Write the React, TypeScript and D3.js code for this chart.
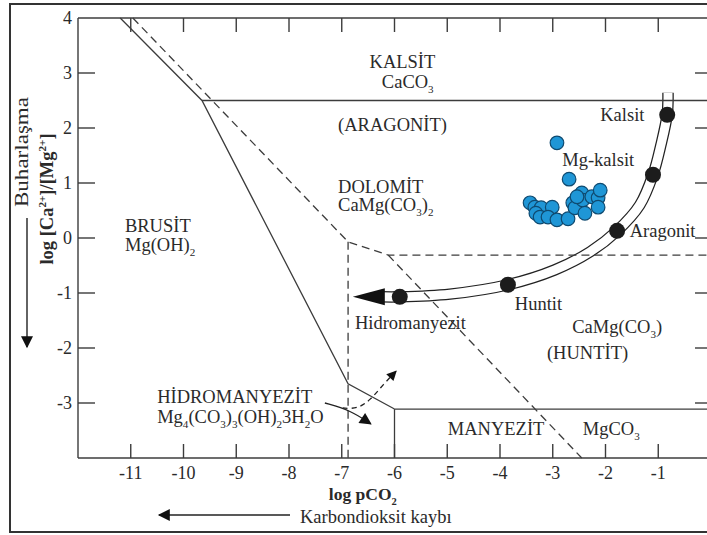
import React from 'react';
import * as d3 from 'd3';

const W = 707;
const H = 535;

// axes
const X_DOMAIN: [number, number] = [-12, 0];
const Y_DOMAIN: [number, number] = [-4, 4];
const X_TICKS = [-11, -10, -9, -8, -7, -6, -5, -4, -3, -2, -1];
const Y_TICK_MARKS = [3, 2, 1, 0, -1, -2, -3];
const Y_TICK_LABELS = [4, 3, 2, 1, 0, -1, -2, -3];

// phase boundaries (log pCO2, log Ca/Mg)
const SOLID_BOUNDARY: [number, number][] = [[-11.2, 4], [-9.65, 2.5], [-6.88, -2.65], [-6.0, -3.11]];
const CALCITE_BOUNDARY: [number, number][] = [[-9.65, 2.5], [0.2, 2.5]];
const MAGNESITE_TOP: [number, number][] = [[-6.0, -3.11], [0.2, -3.11]];
const MAGNESITE_LEFT: [number, number][] = [[-6.0, -3.11], [-6.0, -4]];
const DASHED_BOUNDARY: [number, number][] = [[-10.96, 4], [-6.88, -0.07], [-6.12, -0.31], [0.2, -0.31]];
const DASHED_DIAGONAL: [number, number][] = [[-6.12, -0.31], [-2.45, -4]];
const DASHED_VERTICAL: [number, number][] = [[-6.88, -0.07], [-6.88, -4]];

// evolution path
const PATH_X = [-0.815, -0.83, -0.95, -1.1, -1.35, -1.78, -2.29, -2.96, -3.85, -4.95, -5.9, -6.24];
const PATH_Y = [2.64, 2.25, 1.69, 1.15, 0.6, 0.13, -0.25, -0.58, -0.85, -1.02, -1.07, -1.07];
const ARROW_TIP: [number, number] = [-6.79, -1.07];
const STAGE_X = [-0.83, -1.1, -1.78, -3.85, -5.9];
const STAGE_Y = [2.24, 1.15, 0.13, -0.85, -1.07];

// Mg-calcite samples
const SAMPLE_X = [-2.92, -2.69, -3.43, -3.34, -3.22, -3.01, -3.32, -3.24, -3.09, -2.92, -2.71, -2.62, -2.58, -2.45, -2.43, -2.39, -2.26, -2.14, -2.10, -2.14, -2.54];
const SAMPLE_Y = [1.73, 1.07, 0.64, 0.56, 0.55, 0.56, 0.45, 0.38, 0.38, 0.33, 0.35, 0.64, 0.55, 0.82, 0.69, 0.45, 0.75, 0.73, 0.87, 0.56, 0.75];

// leader arrows
const LEADER_SOLID: [number, number][] = [[-7.32, -3.0], [-6.84, -3.13], [-6.45, -3.38]];
const LEADER_DASHED: [number, number][] = [[-6.98, -3.09], [-6.71, -3.11], [-6.46, -2.95], [-6.22, -2.67], [-5.97, -2.42]];

// labels: text, x, y, anchor
type Lbl = { t: string; x: number; y: number; a?: string };
const LABELS: Lbl[] = [
  { t: 'KALSİT', x: -5.85, y: 3.09, a: 'middle' },
  { t: 'CaCO_{3}', x: -6.24, y: 2.73 },
  { t: '(ARAGONİT)', x: -7.07, y: 1.95 },
  { t: 'DOLOMİT', x: -7.07, y: 0.82 },
  { t: 'CaMg(CO_{3})_{2}', x: -7.07, y: 0.49 },
  { t: 'BRUSİT', x: -11.11, y: 0.11 },
  { t: 'Mg(OH)_{2}', x: -11.11, y: -0.24 },
  { t: 'Kalsit', x: -2.1, y: 2.13 },
  { t: 'Mg-kalsit', x: -2.82, y: 1.31 },
  { t: 'Aragonit', x: -1.54, y: 0.02 },
  { t: 'Huntit', x: -3.72, y: -1.31 },
  { t: 'Hidromanyezit', x: -6.75, y: -1.65 },
  { t: 'CaMg(CO_{3})', x: -2.63, y: -1.73 },
  { t: '(HUNTİT)', x: -3.11, y: -2.2 },
  { t: 'MANYEZİT', x: -4.99, y: -3.58 },
  { t: 'MgCO_{3}', x: -2.43, y: -3.58 },
  { t: 'HİDROMANYEZİT', x: -10.5, y: -3.0 },
  { t: 'Mg_{4}(CO_{3})_{3}(OH)_{2}3H_{2}O', x: -10.5, y: -3.36 },
];

const FONT = '"Liberation Serif", "Times New Roman", serif';
const INK = '#2a2a2a';
const LINE = '#3c3c3c';

function rich(str: string, fs: number) {
  const parts: React.ReactNode[] = [];
  const re = /([_^])\{([^}]*)\}/g;
  let last = 0;
  let shift = 0;
  let m: RegExpExecArray | null;
  let k = 0;
  while ((m = re.exec(str))) {
    if (m.index > last) {
      parts.push(<tspan key={k++} dy={-shift}>{str.slice(last, m.index)}</tspan>);
      shift = 0;
    }
    const s = m[1] === '_' ? fs * 0.28 : -fs * 0.4;
    parts.push(<tspan key={k++} dy={s - shift} fontSize={fs * 0.6}>{m[2]}</tspan>);
    shift = s;
    last = re.lastIndex;
  }
  if (last < str.length) {
    parts.push(<tspan key={k++} dy={-shift}>{str.slice(last)}</tspan>);
  }
  return parts;
}

export default function App() {
  const x = d3.scaleLinear().domain(X_DOMAIN).range([78, 711]);
  const y = d3.scaleLinear().domain(Y_DOMAIN).range([458, 18]);
  const line = d3.line<[number, number]>().x(d => x(d[0])).y(d => y(d[1]));
  const pathPts: [number, number][] = PATH_X.map((v, i) => [v, PATH_Y[i]]);
  const curve = d3.line<[number, number]>().x(d => x(d[0])).y(d => y(d[1])).curve(d3.curveCatmullRom.alpha(0.5));
  const leaderCurve = d3.line<[number, number]>().x(d => x(d[0])).y(d => y(d[1])).curve(d3.curveBasis);

  const tipX = x(ARROW_TIP[0]);
  const tipY = y(ARROW_TIP[1]);
  const baseX = x(PATH_X[PATH_X.length - 1]);
  const head = `M${tipX},${tipY} L${baseX + 3},${tipY - 8.5} L${baseX + 3},${tipY + 8.5} Z`;

  const fs = 18.5;

  return (
    <svg width={W} height={H} style={{ position: 'absolute', left: 0, top: 0, background: '#fff' }} fontFamily={FONT}>
      <defs>
        <marker id="ah" viewBox="0 0 10 10" refX="9" refY="5" markerWidth="15" markerHeight="12" markerUnits="userSpaceOnUse" orient="auto">
          <path d="M0,0 L10,5 L0,10 Z" fill="#111" />
        </marker>
        <marker id="ah2" viewBox="0 0 10 10" refX="9" refY="5" markerWidth="13" markerHeight="10" markerUnits="userSpaceOnUse" orient="auto">
          <path d="M0,0 L10,5 L0,10 Z" fill="#111" />
        </marker>
      </defs>
      <rect x={0} y={0} width={W} height={H} fill="#fff" />
      {/* outer frame */}
      <rect x={10} y={4} width={710} height={528} fill="none" stroke="#333" strokeWidth={2} />

      {/* plot frame */}
      <line x1={x(-12)} x2={x(0)} y1={y(4)} y2={y(4)} stroke={LINE} strokeWidth={1.4} />
      <line x1={x(-12)} x2={x(0)} y1={y(-4)} y2={y(-4)} stroke={LINE} strokeWidth={1.4} />
      <line x1={x(-12)} x2={x(-12)} y1={y(4)} y2={y(-4)} stroke={LINE} strokeWidth={1.4} />
      <line x1={x(0)} x2={x(0)} y1={y(4)} y2={y(-4)} stroke={LINE} strokeWidth={1.4} />

      {/* ticks */}
      {X_TICKS.map(t => (
        <g key={'xt' + t}>
          <line x1={x(t)} x2={x(t)} y1={y(4)} y2={y(4) + 14} stroke={LINE} strokeWidth={1.4} />
          <line x1={x(t)} x2={x(t)} y1={y(-4)} y2={y(-4) - 14} stroke={LINE} strokeWidth={1.4} />
          <text x={x(t)} y={y(-4) + 21} textAnchor="middle" fontSize={18} fill={INK}>{t}</text>
        </g>
      ))}
      {Y_TICK_MARKS.map(t => (
        <g key={'yt' + t}>
          <line x1={x(-12)} x2={x(-12) + 17} y1={y(t)} y2={y(t)} stroke={LINE} strokeWidth={1.4} />
          <line x1={x(0)} x2={x(0) - 16} y1={y(t)} y2={y(t)} stroke={LINE} strokeWidth={1.4} />
        </g>
      ))}
      {Y_TICK_LABELS.map(t => (
        <text key={'yl' + t} x={x(-12) - 6} y={y(t) + 6} textAnchor="end" fontSize={18} fill={INK}>{t}</text>
      ))}

      {/* evolution path (double line) */}
      <path d={curve(pathPts) || ''} fill="none" stroke="#222" strokeWidth={11.5} />
      <path d={curve(pathPts) || ''} fill="none" stroke="#fff" strokeWidth={9} />
      <path d={head} fill="#111" />

      {/* boundaries */}
      <path d={line(SOLID_BOUNDARY) || ''} fill="none" stroke={LINE} strokeWidth={1.3} />
      <path d={line(CALCITE_BOUNDARY) || ''} fill="none" stroke={LINE} strokeWidth={1.3} />
      <path d={line(MAGNESITE_TOP) || ''} fill="none" stroke={LINE} strokeWidth={1.3} />
      <path d={line(MAGNESITE_LEFT) || ''} fill="none" stroke={LINE} strokeWidth={1.3} />
      <path d={line(DASHED_BOUNDARY) || ''} fill="none" stroke={LINE} strokeWidth={1.3} strokeDasharray="8,5" />
      <path d={line(DASHED_DIAGONAL) || ''} fill="none" stroke={LINE} strokeWidth={1.3} strokeDasharray="8,5" />
      <path d={line(DASHED_VERTICAL) || ''} fill="none" stroke={LINE} strokeWidth={1.3} strokeDasharray="8,5" />

      {/* leader arrows */}
      <path d={leaderCurve(LEADER_SOLID) || ''} fill="none" stroke="#222" strokeWidth={1.3} markerEnd="url(#ah)" />
      <path d={leaderCurve(LEADER_DASHED) || ''} fill="none" stroke="#222" strokeWidth={1.3} strokeDasharray="5,4" markerEnd="url(#ah2)" />

      {/* stage dots */}
      {STAGE_X.map((v, i) => (
        <circle key={'s' + i} cx={x(v)} cy={y(STAGE_Y[i])} r={8} fill="#1c1c1c" />
      ))}

      {/* samples */}
      {SAMPLE_X.map((v, i) => (
        <circle key={'p' + i} cx={x(v)} cy={y(SAMPLE_Y[i])} r={6.8} fill="#1f96d6" stroke="#0f4a70" strokeWidth={1.2} />
      ))}

      {/* labels */}
      {LABELS.map((l, i) => (
        <text key={'l' + i} x={x(l.x)} y={y(l.y)} textAnchor={l.a || 'start'} fontSize={fs} fill={INK}>
          {rich(l.t, fs)}
        </text>
      ))}

      {/* axis titles */}
      <text x={x(-6.6)} y={500} textAnchor="middle" fontSize={17.5} fontWeight="bold" fill={INK}>{rich('log pCO_{2}', 17.5)}</text>
      <line x1={290} x2={159} y1={515} y2={515} stroke="#222" strokeWidth={1.4} markerEnd="url(#ah)" />
      <text x={300} y={523} fontSize={fs} fill={INK}>Karbondioksit kaybı</text>

      <text transform="translate(53,199) rotate(-90)" textAnchor="middle" fontSize={18.5} fontWeight="bold" fill={INK}>
        {rich('log [Ca^{2+}]/[Mg^{2+}]', 18.5)}
      </text>
      <text transform="translate(28,152) rotate(-90)" textAnchor="middle" fontSize={19} fill={INK} textLength={110} lengthAdjust="spacingAndGlyphs">Buharlaşma</text>
      <line x1={27} x2={27} y1={218} y2={347} stroke="#222" strokeWidth={1.4} markerEnd="url(#ah)" />
    </svg>
  );
}
